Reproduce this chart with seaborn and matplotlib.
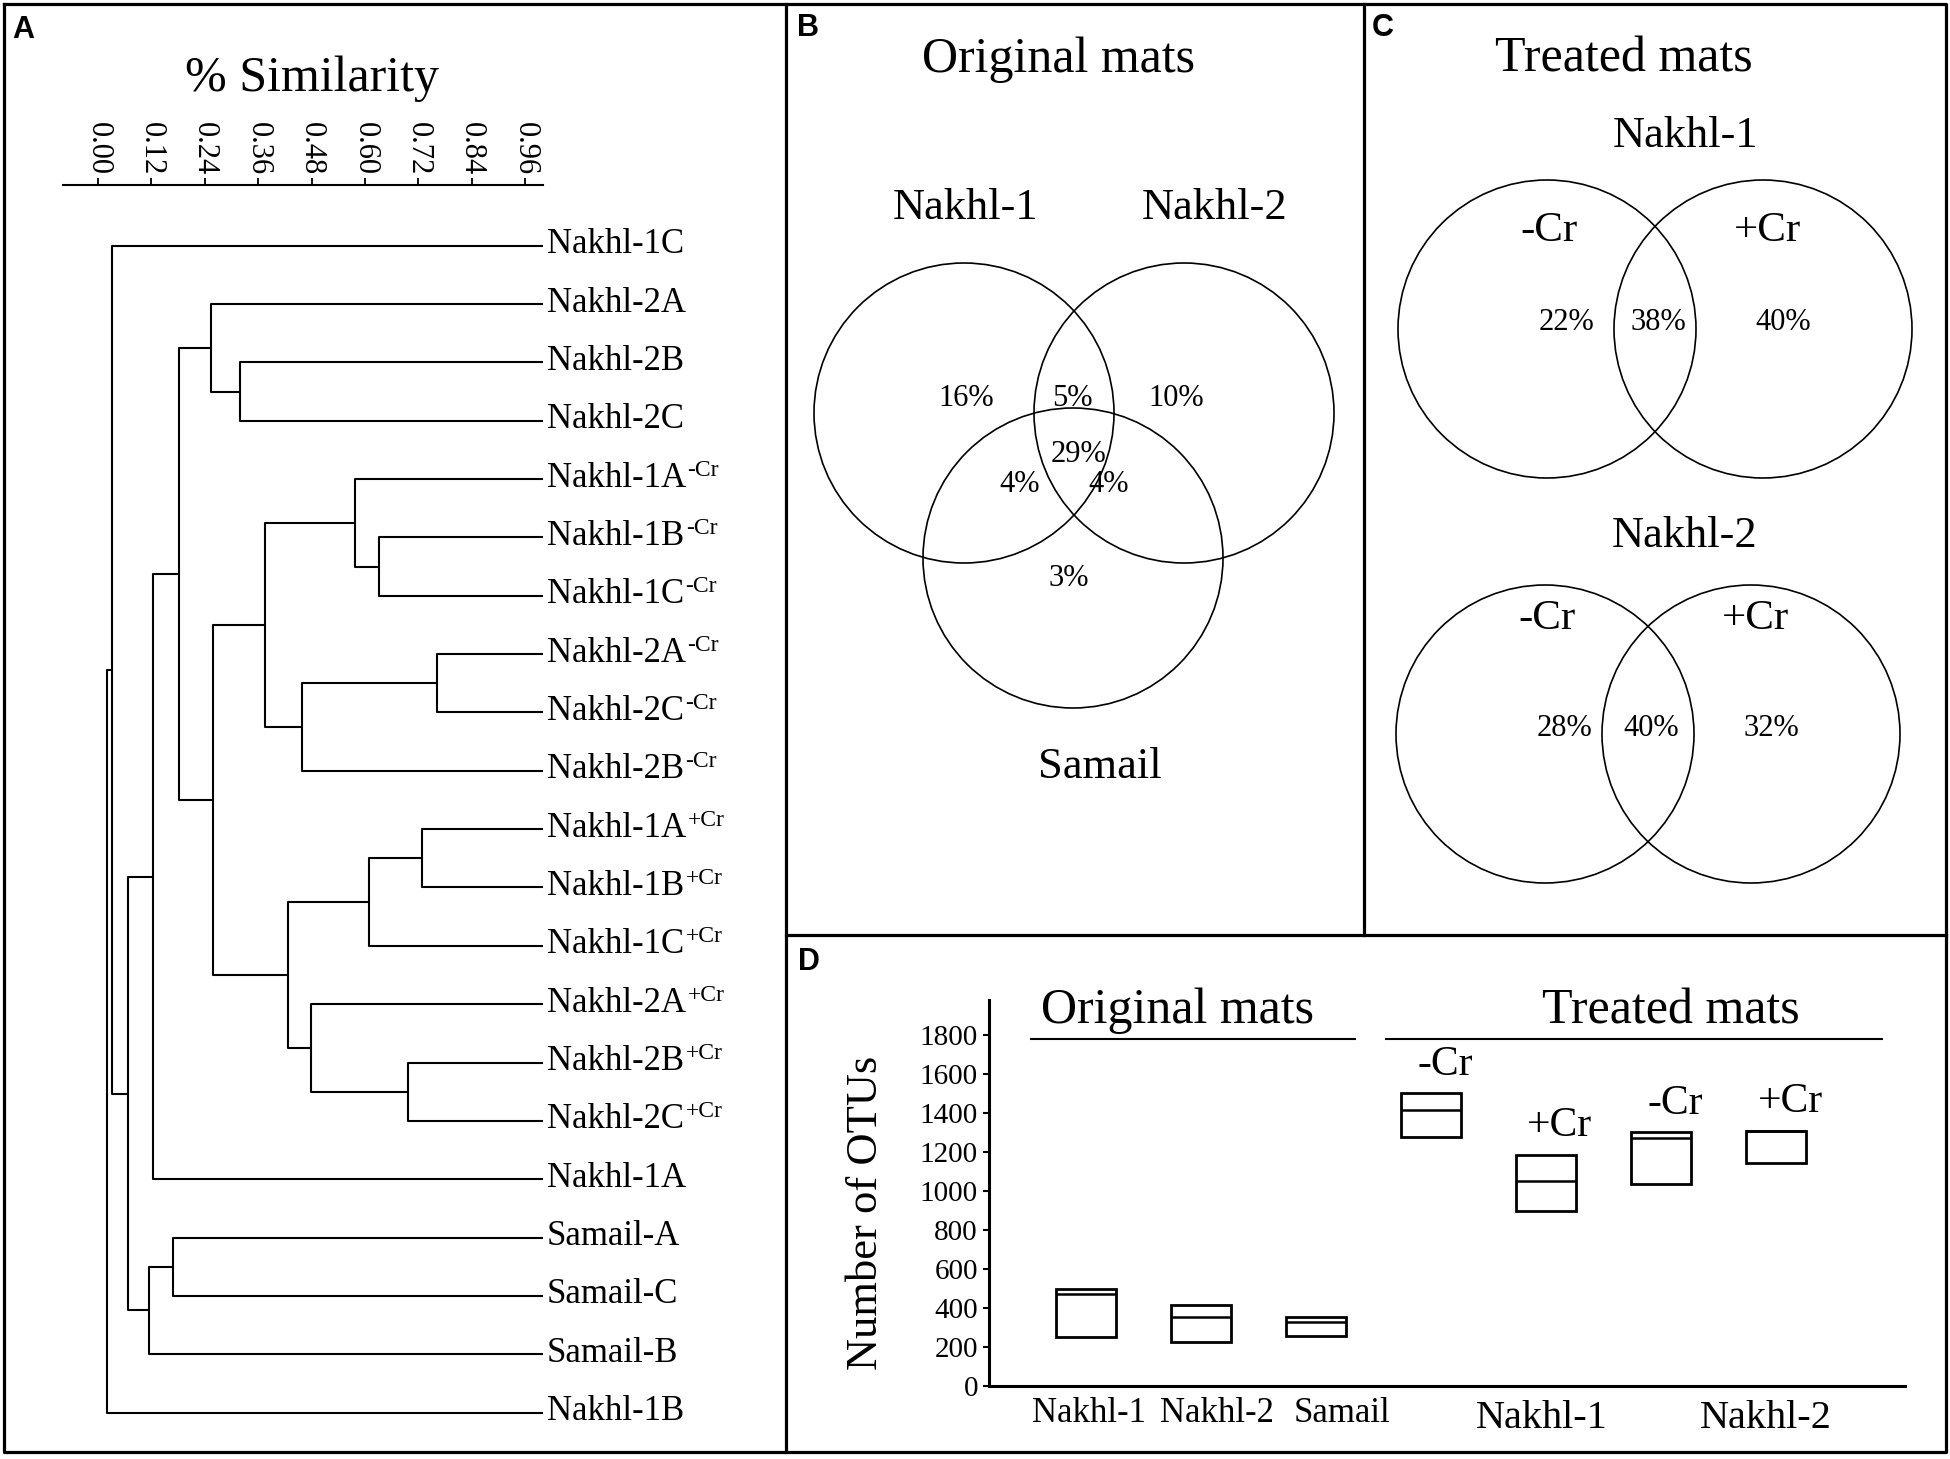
import matplotlib
matplotlib.use("Agg")
import matplotlib.pyplot as plt
from matplotlib.patches import Circle
import seaborn as sns

sns.set_theme(style="white", rc={"axes.edgecolor": "black", "text.color": "black",
                                 "xtick.color": "black", "ytick.color": "black",
                                 "axes.labelcolor": "black"})
plt.rcParams["font.family"] = ["Liberation Serif", "DejaVu Serif"]

W, H = 1950, 1459

# ---- A: dendrogram (% similarity) ----
leaf_names = ["Nakhl-1C", "Nakhl-2A", "Nakhl-2B", "Nakhl-2C",
              "Nakhl-1A", "Nakhl-1B", "Nakhl-1C", "Nakhl-2A", "Nakhl-2C", "Nakhl-2B",
              "Nakhl-1A", "Nakhl-1B", "Nakhl-1C", "Nakhl-2A", "Nakhl-2B", "Nakhl-2C",
              "Nakhl-1A", "Samail-A", "Samail-C", "Samail-B", "Nakhl-1B"]
leaf_treat = ["", "", "", "",
              "-Cr", "-Cr", "-Cr", "-Cr", "-Cr", "-Cr",
              "+Cr", "+Cr", "+Cr", "+Cr", "+Cr", "+Cr",
              "", "", "", "", ""]
leaf_similarity = 1.0
# merges: node ids >= 21 refer to earlier merges (in order)
merge_left = [7, 10, 14, 5, 22, 4, 13, 21, 25, 26, 2, 30, 1, 17, 33, 35, 34, 36, 0, 39]
merge_right = [8, 11, 15, 6, 12, 24, 23, 9, 27, 28, 3, 29, 31, 18, 32, 16, 19, 37, 38, 20]
merge_height = [0.761, 0.729, 0.697, 0.631, 0.610, 0.577, 0.479, 0.458, 0.426, 0.376,
                0.319, 0.258, 0.255, 0.168, 0.183, 0.124, 0.115, 0.068, 0.032, 0.021]
sim_ticks = [0.00, 0.12, 0.24, 0.36, 0.48, 0.60, 0.72, 0.84, 0.96]

# ---- B: Venn original mats ----
orig_sets = ["Nakhl-1", "Nakhl-2", "Samail"]
orig_regions = ["1", "12", "2", "123", "13", "23", "3"]
orig_pct = [16, 5, 10, 29, 4, 4, 3]

# ---- C: Venn treated mats ----
treat_sites = ["Nakhl-1", "Nakhl-2"]
treat_minus_only = [22, 28]
treat_shared = [38, 40]
treat_plus_only = [40, 32]

# ---- D: number of OTUs ----
otu_site = ["Nakhl-1", "Nakhl-2", "Samail", "Nakhl-1", "Nakhl-1", "Nakhl-2", "Nakhl-2"]
otu_treat = ["", "", "", "-Cr", "+Cr", "-Cr", "+Cr"]
otu_low = [250, 224, 258, 1279, 899, 1034, 1145]
otu_mid = [472, 352, 326, 1415, 1051, 1270, 1309]
otu_high = [496, 415, 352, 1501, 1185, 1301, 1309]
otu_ticks = [0, 200, 400, 600, 800, 1000, 1200, 1400, 1600, 1800]


def px_box(x0, y0, x1, y1):
    return [x0 / W, 1 - y1 / H, (x1 - x0) / W, (y1 - y0) / H]


fig = plt.figure(figsize=(W / 100, H / 100), dpi=100)

# background axes in pixel units for frames, labels and venn diagrams
bg = fig.add_axes([0, 0, 1, 1], zorder=0)
bg.set_xlim(0, W)
bg.set_ylim(H, 0)
bg.axis("off")
frame = dict(color="black", lw=2.3, solid_capstyle="projecting")
bg.plot([4, 1946, 1946, 4, 4], [4, 4, 1452, 1452, 4], **frame)
bg.plot([786, 786], [4, 1452], **frame)
bg.plot([1364, 1364], [4, 935], **frame)
bg.plot([786, 1946], [935, 935], **frame)
for lab, x, y in [("A", 12, 38), ("B", 797, 36), ("C", 1372, 36), ("D", 798, 970)]:
    bg.text(x, y, lab, fontsize=22, fontweight="bold", family="Liberation Sans",
            ha="left", va="baseline")

# ---- panel A ----
axa = fig.add_axes(px_box(63, 185, 543, 1440), zorder=1)
axa.set_facecolor("none")
n = len(leaf_names)
node_x = [leaf_similarity] * n
node_y = list(range(n))
for l, r, h in zip(merge_left, merge_right, merge_height):
    axa.plot([node_x[l], h, h, node_x[r]], [node_y[l], node_y[l], node_y[r], node_y[r]],
             color="black", lw=1.5)
    node_x.append(h)
    node_y.append((node_y[l] + node_y[r]) / 2)
for i, (name, tr) in enumerate(zip(leaf_names, leaf_treat)):
    txt = axa.text(leaf_similarity + 0.009, i + 0.13, name, fontsize=25, ha="left",
                   va="baseline", clip_on=False)
    if tr:
        axa.annotate(tr, xy=(1.0, 0.58), xycoords=txt, xytext=(1, 0),
                     textcoords="offset points", fontsize=17, ha="left",
                     va="baseline", annotation_clip=False)
axa.set_xlim(-0.0786, 1.0)
axa.set_ylim(20.47, -1.04)
for s in ["left", "right", "bottom"]:
    axa.spines[s].set_visible(False)
axa.spines["top"].set_linewidth(1.5)
axa.set_yticks([])
axa.set_xticks(sim_ticks)
axa.set_xticklabels([f"{t:.2f}" for t in sim_ticks], rotation=-90, fontsize=22)
axa.tick_params(axis="x", top=True, bottom=False, labeltop=True, labelbottom=False,
                direction="out", length=5, width=1.3, pad=2)
bg.text(312, 91, "% Similarity", fontsize=36, ha="center", va="baseline")

# ---- panel B ----
bg.text(1058, 72, "Original mats", fontsize=36, ha="center", va="baseline")
venn_b = {"Nakhl-1": (964, 413), "Nakhl-2": (1184, 413), "Samail": (1073, 558)}
for s in orig_sets:
    bg.add_patch(Circle(venn_b[s], 150, fill=False, ec="black", lw=1.2))
bg.text(965, 219, orig_sets[0], fontsize=32, ha="center", va="baseline")
bg.text(1215, 219, orig_sets[1], fontsize=32, ha="center", va="baseline")
bg.text(1100, 778, orig_sets[2], fontsize=32, ha="center", va="baseline")
region_xy = {"1": (966, 398), "12": (1072, 398), "2": (1176, 398), "123": (1078, 455),
             "13": (1020, 485), "23": (1109, 485), "3": (1069, 578)}
for reg, p in zip(orig_regions, orig_pct):
    bg.text(*region_xy[reg], f"{p}%", fontsize=22, ha="center", va="center")

# ---- panel C ----
bg.text(1624, 72, "Treated mats", fontsize=36, ha="center", va="baseline")
venn_c = [(329, 147, 1547, 1763, 241), (734, 547, 1545, 1751, 629)]
for site, mo, sh, po, (cy, ty, xl, xr, ly) in zip(treat_sites, treat_minus_only,
                                                   treat_shared, treat_plus_only, venn_c):
    bg.text(1685, ty, site, fontsize=32, ha="center", va="baseline")
    bg.add_patch(Circle((xl, cy), 149, fill=False, ec="black", lw=1.2))
    bg.add_patch(Circle((xr, cy), 149, fill=False, ec="black", lw=1.2))
    bg.text(xl + 2, ly, "-Cr", fontsize=31, ha="center", va="baseline")
    bg.text(xr + 4, ly, "+Cr", fontsize=31, ha="center", va="baseline")
    bg.text(xl + 20, cy - 6, f"{mo}%", fontsize=22, ha="center", va="center")
    bg.text((xl + xr) / 2 + 3, cy - 6, f"{sh}%", fontsize=22, ha="center", va="center")
    bg.text(xr + 20, cy - 6, f"{po}%", fontsize=22, ha="center", va="center")

# ---- panel D ----
axd = fig.add_axes(px_box(989, 1000, 1905, 1386), zorder=1)
axd.set_facecolor("none")
pos = list(range(len(otu_low)))
stats = [dict(med=m, q1=lo, q3=hi, whislo=lo, whishi=hi, label="")
         for lo, m, hi in zip(otu_low, otu_mid, otu_high)]
axd.bxp(stats, positions=pos, widths=0.52, showcaps=False, showfliers=False,
        patch_artist=True,
        boxprops=dict(facecolor="white", edgecolor="black", linewidth=2.0),
        medianprops=dict(color="black", linewidth=1.8),
        whiskerprops=dict(linewidth=0))
axd.set_xlim(-0.843, 7.12)
axd.set_ylim(0, 1980)
sns.despine(ax=axd)
for s in ["left", "bottom"]:
    axd.spines[s].set_linewidth(2.2)
axd.set_yticks(otu_ticks)
axd.set_yticklabels([str(t) for t in otu_ticks], fontsize=21)
axd.tick_params(axis="y", left=True, direction="out", length=4, width=1.5, pad=4)
axd.set_xticks([0.03, 1.14, 2.23])
axd.set_xticklabels(otu_site[:3], fontsize=25)
axd.tick_params(axis="x", bottom=True, length=0, pad=8)
axd.set_ylabel("Number of OTUs", fontsize=32)
axd.yaxis.set_label_coords(-0.112, 0.448)
for p, tr, hi in zip(pos[3:], otu_treat[3:], otu_high[3:]):
    axd.text(p + 0.12, hi + 95, tr, fontsize=30, ha="center", va="baseline")
for x, site in [(3.96, otu_site[4]), (5.91, otu_site[6])]:
    axd.text(x, -0.109, site, transform=axd.get_xaxis_transform(), fontsize=29,
             ha="center", va="baseline")
axd.hlines(1779.5, -0.487, 2.348, color="black", lw=1.5, clip_on=False)
axd.hlines(1779.5, 2.6, 6.93, color="black", lw=1.5, clip_on=False)
axd.text(0.8, 1862, "Original mats", fontsize=36, ha="center", va="baseline")
axd.text(5.08, 1862, "Treated mats", fontsize=36, ha="center", va="baseline")

fig.savefig("out.png", dpi=100, facecolor="white")
